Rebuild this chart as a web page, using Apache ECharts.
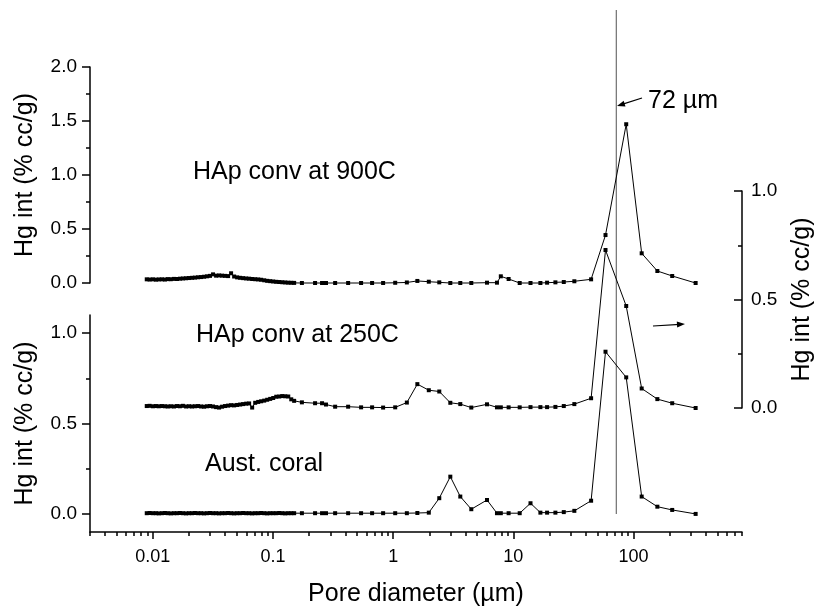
<!DOCTYPE html>
<html><head><meta charset="utf-8">
<script src="https://cdn.jsdelivr.net/npm/echarts@6/dist/echarts.min.js"></script>
<style>html,body{margin:0;padding:0;background:#fff}#c{width:816px;height:612px}</style>
</head><body><div id="c"></div>
<script>
// ---------- data ----------
const denseDiameter = [0.0089,0.0094,0.0100,0.0106,0.0112,0.0119,0.0126,0.0133,0.0141,0.0150,
  0.0159,0.0168,0.0178,0.0189,0.0200,0.0212,0.0224,0.0238,0.0252,0.0267,
  0.0283,0.0299,0.0317,0.0336,0.0356,0.0377,0.0399,0.0423,0.0448,0.0475,
  0.0503,0.0533,0.0564,0.0598,0.0633,0.0671,0.0711,0.0753,0.0797,0.0845,
  0.0895,0.0948,0.1004,0.1064,0.1127,0.1194,0.1265,0.1340,0.1419,0.1500];
const sparseDiameter = [0.174,0.224,0.256,0.276,0.329,0.422,0.541,0.668,0.825,1.04,
  1.30,1.59,1.98,2.42,2.99,3.62,4.47,6.04,7.31,7.87,
  9.14,11.3,13.9,16.8,19.1,22.4,26.3,32.2,44.4,58.5,
  87.0,117,158,210,329];

const hap900Dense = [0.034,0.032,0.034,0.031,0.033,0.034,0.032,0.036,0.035,0.038,
  0.037,0.040,0.042,0.044,0.046,0.048,0.050,0.053,0.055,0.058,
  0.062,0.066,0.080,0.068,0.070,0.068,0.066,0.064,0.090,0.060,
  0.052,0.048,0.045,0.042,0.040,0.037,0.035,0.033,0.030,0.025,
  0.020,0.017,0.014,0.011,0.009,0.007,0.005,0.003,0.002,0.001];
const hap900Sparse = [0,0,0,0,0,0,0,0,0,0.002,
  0.005,0.019,0.012,0.006,0,0,0,0.003,0.003,0.062,
  0.037,0,0,0,0.003,0.006,0.009,0.016,0.034,0.444,
  1.47,0.275,0.111,0.065,0];

const hap250Dense = [0.009,0.010,0.008,0.009,0.008,0.009,0.008,0.007,0.008,0.007,
  0.009,0.008,0.010,0.007,0.008,0.007,0.008,0.009,0.007,0.006,
  0.008,0.009,0.007,0.004,0.002,0.006,0.009,0.011,0.013,0.012,
  0.014,0.016,0.018,0.020,0.021,0.002,0.024,0.028,0.031,0.034,
  0.038,0.042,0.046,0.052,0.053,0.055,0.054,0.053,0.040,0.033];
const hap250Sparse = [0.026,0.022,0.022,0.016,0.006,0.006,0.003,0.003,0.002,0.003,
  0.025,0.110,0.082,0.076,0.024,0.018,0.002,0.017,0.003,0.003,
  0.003,0.003,0.004,0.004,0.004,0.005,0.009,0.018,0.045,0.728,
  0.470,0.090,0.041,0.022,0.000];

const coralDense = [0.004,0.005,0.004,0.004,0.003,0.004,0.005,0.004,0.003,0.004,
  0.004,0.005,0.004,0.003,0.004,0.004,0.005,0.004,0.004,0.003,
  0.004,0.005,0.004,0.004,0.003,0.004,0.004,0.005,0.004,0.003,
  0.004,0.004,0.005,0.004,0.004,0.003,0.004,0.004,0.005,0.004,
  0.003,0.004,0.004,0.004,0.005,0.004,0.003,0.004,0.004,0.004];
const coralSparse = [0.004,0.004,0.004,0.004,0.004,0.004,0.004,0.004,0.004,0.004,
  0.004,0.005,0.007,0.087,0.206,0.096,0.026,0.077,0.004,0.004,
  0.004,0.004,0.059,0.007,0.007,0.007,0.010,0.017,0.073,0.897,
  0.755,0.096,0.040,0.022,0.000];

const refDiameter = 72;               // vertical reference line (µm)
const xMajorTicks = [0.01, 0.1, 1, 10, 100];
const xMinorTicks = [0.003,0.004,0.005,0.006,0.007,0.008,0.009,
  0.02,0.03,0.04,0.05,0.06,0.07,0.08,0.09,
  0.2,0.3,0.4,0.5,0.6,0.7,0.8,0.9,
  2,3,4,5,6,7,8,9,
  20,30,40,50,60,70,80,90,
  200,300,400,500,600,700,800];
const bottomMajorTicks = [0, 0.5, 1.0];
const bottomMinorTicks = [0.25, 0.75];

const seriesNames = ['HAp conv at 900C', 'HAp conv at 250C', 'Aust. coral'];
const yTitle = 'Hg int (% cc/g)';
const xTitle = 'Pore diameter (\u00B5m)';

// ---------- chart ----------
const FONT = 'Liberation Sans, Arial, Helvetica, sans-serif';
const BLACK = '#000';
const diameter = denseDiameter.concat(sparseDiameter);
function pairs(vals) { return diameter.map((d, i) => [d, vals[i]]); }
const hap900 = hap900Dense.concat(hap900Sparse);
const hap250 = hap250Dense.concat(hap250Sparse);
const coral = coralDense.concat(coralSparse);

const XMIN = 0.003, XMAX = 800;
const G = { left: 90, width: 652, outerBoundsMode: 'none', containLabel: false };
const axLine = { show: true, onZero: false, lineStyle: { color: BLACK, width: 1.5 } };
const tickStyle = { color: BLACK, width: 1.5 };
const labelBase = { color: BLACK, fontFamily: FONT };
const nameStyle = { color: BLACK, fontFamily: FONT, fontSize: 25 };

function hiddenX(gi) { return { type: 'log', gridIndex: gi, min: XMIN, max: XMAX, show: false }; }

const chart = echarts.init(document.getElementById('c'), null, { renderer: 'canvas' });
const fmt1 = v => Number(v).toFixed(1);

const option = {
  animation: false,
  backgroundColor: '#fff',
  grid: [
    Object.assign({ top: 67, height: 216 }, G),   // 0: top panel (900C)
    Object.assign({ top: 315, height: 217 }, G),  // 1: bottom panel (coral) + x axis
    Object.assign({ top: 191, height: 217 }, G),  // 2: right axis (250C)
    Object.assign({ top: 10, height: 504 }, G)    // 3: reference line span
  ],
  xAxis: [
    hiddenX(0),
    {
      type: 'log', gridIndex: 1, min: XMIN, max: XMAX, logBase: 10, position: 'bottom',
      axisLine: axLine,
      axisTick: { show: true, customValues: xMajorTicks, length: 7, lineStyle: tickStyle },
      axisLabel: Object.assign({ show: true, customValues: xMajorTicks, margin: 16, fontSize: 18,
        formatter: v => String(+Number(v).toPrecision(3)) }, labelBase),
      splitLine: { show: false },
      name: xTitle, nameLocation: 'middle', nameGap: 50, nameTextStyle: nameStyle
    },
    hiddenX(2),
    hiddenX(3),
    {
      type: 'log', gridIndex: 1, min: XMIN, max: XMAX, logBase: 10, position: 'bottom',
      axisLine: { show: false, onZero: false },
      axisTick: { show: true, customValues: xMinorTicks, length: 4, lineStyle: tickStyle },
      axisLabel: { show: false }, splitLine: { show: false }
    }
  ],
  yAxis: [
    {
      type: 'value', gridIndex: 0, min: 0, max: 2, interval: 0.5, position: 'left',
      axisLine: axLine,
      axisTick: { show: true, length: 8, lineStyle: tickStyle },
      minorTick: { show: true, splitNumber: 2, length: 4, lineStyle: tickStyle },
      axisLabel: Object.assign({ margin: 13, fontSize: 19, formatter: fmt1 }, labelBase),
      splitLine: { show: false }, minorSplitLine: { show: false },
      name: yTitle, nameLocation: 'middle', nameRotate: 90, nameGap: 52, nameTextStyle: nameStyle
    },
    {
      type: 'value', gridIndex: 1, min: -0.1, max: 1.1, position: 'left',
      axisLine: axLine,
      axisTick: { show: true, customValues: bottomMajorTicks, length: 8, lineStyle: tickStyle },
      axisLabel: Object.assign({ customValues: bottomMajorTicks, margin: 13, fontSize: 19, formatter: fmt1 }, labelBase),
      splitLine: { show: false },
      name: yTitle, nameLocation: 'middle', nameRotate: 90, nameGap: 52, nameTextStyle: nameStyle
    },
    {
      type: 'value', gridIndex: 2, min: 0, max: 1, interval: 0.5, position: 'right',
      axisLine: axLine,
      axisTick: { show: true, inside: true, length: 8, lineStyle: tickStyle },
      minorTick: { show: true, splitNumber: 2, length: 4, lineStyle: tickStyle },
      axisLabel: Object.assign({ margin: 9, fontSize: 19, formatter: fmt1 }, labelBase),
      splitLine: { show: false }, minorSplitLine: { show: false },
      name: yTitle, nameLocation: 'middle', nameRotate: 90, nameGap: 48, nameTextStyle: nameStyle
    },
    { type: 'value', gridIndex: 3, min: 0, max: 1, show: false },
    {
      type: 'value', gridIndex: 1, min: -0.1, max: 1.1, position: 'left',
      axisLine: { show: false, onZero: false },
      axisTick: { show: true, customValues: bottomMinorTicks, length: 4, lineStyle: tickStyle },
      axisLabel: { show: false }, splitLine: { show: false }
    }
  ],
  series: [
    {
      name: 'reference', type: 'line', xAxisIndex: 3, yAxisIndex: 3,
      data: [[refDiameter, 0], [refDiameter, 1]], symbol: 'none', silent: true,
      lineStyle: { color: '#7a7a7a', width: 1.3 }, z: 1
    },
    {
      name: seriesNames[0], type: 'line', xAxisIndex: 0, yAxisIndex: 0, data: pairs(hap900),
      symbol: 'rect', symbolSize: 4, showSymbol: true, showAllSymbol: true, clip: false,
      lineStyle: { color: BLACK, width: 1 }, itemStyle: { color: BLACK }, z: 3
    },
    {
      name: seriesNames[1], type: 'line', xAxisIndex: 2, yAxisIndex: 2, data: pairs(hap250),
      symbol: 'rect', symbolSize: 4, showSymbol: true, showAllSymbol: true, clip: false,
      lineStyle: { color: BLACK, width: 1 }, itemStyle: { color: BLACK }, z: 3
    },
    {
      name: seriesNames[2], type: 'line', xAxisIndex: 1, yAxisIndex: 1, data: pairs(coral),
      symbol: 'rect', symbolSize: 4, showSymbol: true, showAllSymbol: true, clip: false,
      lineStyle: { color: BLACK, width: 1 }, itemStyle: { color: BLACK }, z: 3
    }
  ],
  graphic: [
    { type: 'text', x: 193, y: 172, style: { text: seriesNames[0], fontSize: 25, fontFamily: FONT, fill: BLACK, verticalAlign: 'middle' } },
    { type: 'text', x: 196, y: 335, style: { text: seriesNames[1], fontSize: 25, fontFamily: FONT, fill: BLACK, verticalAlign: 'middle' } },
    { type: 'text', x: 205, y: 464, style: { text: seriesNames[2], fontSize: 25, fontFamily: FONT, fill: BLACK, verticalAlign: 'middle' } },
    { type: 'text', x: 648, y: 101, style: { text: refDiameter + ' \u00B5m', fontSize: 25, fontFamily: FONT, fill: BLACK, verticalAlign: 'middle' } },
    { type: 'line', shape: { x1: 642, y1: 98, x2: 622, y2: 104.4 }, style: { stroke: BLACK, lineWidth: 1.2 } },
    { type: 'polygon', shape: { points: [[617, 106], [625.5, 106.5], [623.7, 100.7]] }, style: { fill: BLACK } },
    { type: 'line', shape: { x1: 653, y1: 326, x2: 680, y2: 324.3 }, style: { stroke: BLACK, lineWidth: 1.2 } },
    { type: 'polygon', shape: { points: [[685, 324], [677.2, 327.5], [676.8, 321.5]] }, style: { fill: BLACK } }
  ]
};
chart.setOption(option);
</script>
</body></html>
